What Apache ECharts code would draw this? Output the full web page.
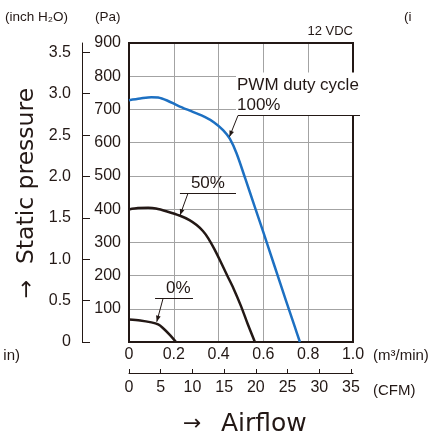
<!DOCTYPE html>
<html><head><meta charset="utf-8">
<script src="https://cdn.jsdelivr.net/npm/echarts@6/dist/echarts.min.js"></script>
<style>html,body{margin:0;padding:0;background:#fff}#c{width:441px;height:434px}</style>
</head><body><div id="c"></div>
<script>
// ---- data (airflow in m3/min, static pressure in Pa) ----
const airflowTicks = [0, 0.2, 0.4, 0.6, 0.8, 1.0];
const cfmTicks = [0, 5, 10, 15, 20, 25, 30, 35];
const paTicks = [0, 100, 200, 300, 400, 500, 600, 700, 800, 900];
const inchTicks = [0, 0.5, 1.0, 1.5, 2.0, 2.5, 3.0, 3.5];
const duty100 = [[0,728],[0.05,733],[0.1,737],[0.13,736],[0.17,727],[0.22,711],[0.28,694],[0.34,677],[0.38,661],[0.42,638],[0.45,612],[0.48,568],[0.52,490],[0.56,410],[0.6,330],[0.65,228],[0.7,126],[0.74,46],[0.763,0]];
const duty50 = [[0,399],[0.04,403],[0.086,404],[0.12,402],[0.17,393],[0.228,380],[0.27,367],[0.302,352],[0.33,334],[0.354,312],[0.38,281],[0.406,246],[0.44,198],[0.466,162],[0.5,108],[0.53,54],[0.562,0]];
const duty0 = [[0,68],[0.05,65],[0.1,59],[0.13,53],[0.15,43],[0.18,23],[0.21,0]];
const seriesNames = ['100%', '50%', '0%'];
const M3_TO_CFM = 35.3147;
const PA_PER_INH2O = 249.089;

const ink = '#231815';
const numFont = "'Liberation Sans', Arial, sans-serif";
const titleFont = "'DejaVu Sans', sans-serif";
const chart = echarts.init(document.getElementById('c'), null, {renderer: 'canvas'});

chart.setOption({
  animation: false,
  backgroundColor: '#fff',
  grid: {left: 129, top: 43, width: 224, height: 299, show: true, borderColor: ink, borderWidth: 2, backgroundColor: 'transparent', z: 3},
  xAxis: [{
    type: 'value', min: 0, max: 1, interval: 0.2, position: 'bottom',
    axisLine: {show: false}, axisTick: {show: false},
    splitLine: {show: true, lineStyle: {color: '#a3a3a3', width: 1}},
    axisLabel: {color: ink, fontSize: 16, fontFamily: numFont, margin: 5,
      formatter: v => v === 0 ? '0' : v.toFixed(1)}
  }, {
    type: 'value', min: 0, max: M3_TO_CFM, position: 'bottom', offset: 31,
    axisLine: {show: true, onZero: false, lineStyle: {color: ink, width: 1}},
    axisTick: {show: true, inside: true, length: 4, lineStyle: {color: ink}, customValues: cfmTicks},
    splitLine: {show: false},
    axisLabel: {color: ink, fontSize: 16, fontFamily: numFont, margin: 7, customValues: cfmTicks,
      formatter: v => String(v)}
  }],
  yAxis: [{
    type: 'value', min: 0, max: 900, interval: 100, position: 'left',
    axisLine: {show: false}, axisTick: {show: false},
    splitLine: {show: true, lineStyle: {color: '#a3a3a3', width: 1}},
    axisLabel: {color: ink, fontSize: 16, fontFamily: numFont, margin: 8,
      formatter: v => v === 0 ? '' : String(v)}
  }, {
    type: 'value', min: 0, max: 900 / PA_PER_INH2O, position: 'left', offset: 47,
    axisLine: {show: true, onZero: false, lineStyle: {color: ink, width: 1}},
    axisTick: {show: true, inside: true, length: 8, lineStyle: {color: ink}, customValues: inchTicks},
    splitLine: {show: false},
    axisLabel: {color: ink, fontSize: 16, fontFamily: numFont, margin: 11, customValues: inchTicks,
      formatter: v => v === 0 ? '0' : v.toFixed(1)}
  }],
  series: [
    {name: seriesNames[0], type: 'line', data: duty100, smooth: 0.3, showSymbol: false, z: 5,
      lineStyle: {color: '#1d70c2', width: 2.5}},
    {name: seriesNames[1], type: 'line', data: duty50, smooth: 0.3, showSymbol: false, z: 5,
      lineStyle: {color: ink, width: 2.5}},
    {name: seriesNames[2], type: 'line', data: duty0, smooth: 0.3, showSymbol: false, z: 5,
      lineStyle: {color: ink, width: 2.5}}
  ]
});

// ---- annotations anchored in data coordinates ----
const px = p => chart.convertToPixel({xAxisIndex: 0, yAxisIndex: 0}, p);
function arrowHead(tip, from) {
  const dx = tip[0] - from[0], dy = tip[1] - from[1];
  const L = Math.hypot(dx, dy), ux = dx / L, uy = dy / L;
  const len = 6, hw = 2.4;
  const bx = tip[0] - ux * len, by = tip[1] - uy * len;
  return {type: 'polygon', z: 20, shape: {points: [tip, [bx - uy * hw, by + ux * hw], [bx + uy * hw, by - ux * hw]]}, style: {fill: ink}};
}
const annots = [
  {tip: [0.4487, 618], start: [0.4866, 683], ulEnd: 360, lines: ['PWM duty cycle', '100%'], cover: true},
  {tip: [0.228, 382], start: [0.263, 448], ulEnd: 236, lines: ['50%']},
  {tip: [0.124, 61], start: [0.152, 131], ulEnd: 193, lines: ['0%']}
];
const g = [];
annots.forEach(a => {
  const t = px(a.tip), s = px(a.start);
  const sy = Math.round(s[1]) + 0.5;
  if (a.cover) {
    g.push({type: 'rect', z: 15, shape: {x: s[0] - 2, y: sy - 43, width: a.ulEnd - s[0] + 5, height: 43}, style: {fill: '#fff'}});
  }
  g.push({type: 'line', z: 20, shape: {x1: s[0] - (a.cover ? 0 : 8), y1: sy, x2: a.ulEnd, y2: sy}, style: {stroke: ink, lineWidth: 1}});
  g.push({type: 'line', z: 20, shape: {x1: s[0], y1: sy, x2: t[0], y2: t[1]}, style: {stroke: ink, lineWidth: 1}});
  g.push(arrowHead(t, [s[0], sy]));
  const n = a.lines.length;
  a.lines.forEach((txt, i) => {
    g.push({type: 'text', z: 21, x: a.cover ? s[0] - 1 : s[0] + 3, y: sy - 10 - (n - 1 - i) * 20,
      style: {text: txt, fill: ink, fontSize: 17, fontFamily: numFont, textVerticalAlign: 'middle', textAlign: 'left'}});
  });
});

// titles & units
const txt = (x, y, text, size, align, font) => ({type: 'text', z: 21, x, y,
  style: {text, fill: ink, fontSize: size, fontFamily: font || numFont, textAlign: align || 'left', textVerticalAlign: 'middle'}});
g.push(txt(5, 17, '(inch H₂O)', 13.5));
g.push(txt(95, 17, '(Pa)', 13.5));
g.push(txt(353, 31, '12 VDC', 13, 'right'));
g.push(txt(373, 356, '(m³/min)', 15));
g.push(txt(373, 391, '(CFM)', 15));
g.push(txt(404, 17, '(i', 13.5));
g.push(txt(20, 356, 'in)', 15, 'right'));
g.push(txt(183, 424, '→', 22, 'left', titleFont));
g.push(txt(221, 424, 'Airflow', 25, 'left', titleFont));
g.push({type: 'text', z: 21, x: 27, y: 176, rotation: Math.PI / 2, style: {text: 'Static pressure', fill: ink, fontSize: 23.5, fontFamily: titleFont, textAlign: 'center', textVerticalAlign: 'middle'}});
g.push({type: 'text', z: 21, x: 27, y: 289, rotation: Math.PI / 2, style: {text: '→', fill: ink, fontSize: 22, fontFamily: titleFont, textAlign: 'center', textVerticalAlign: 'middle'}});
chart.setOption({graphic: g});
</script></body></html>
